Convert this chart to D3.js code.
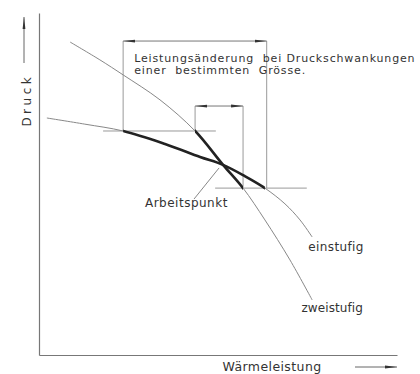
<!DOCTYPE html>
<html>
<head>
<meta charset="utf-8">
<script src="https://cdn.jsdelivr.net/npm/d3@7"></script>
<style>
  body { margin: 0; background: #fff; }
  text { font-family: "DejaVu Sans", sans-serif; fill: #333; }
</style>
</head>
<body>
<div id="chart"></div>
<script>
// data (Wärmeleistung 0..100, Druck 0..100)
const einstufig = [[2.2,69.3],[12.8,67.5],[23.5,65.5],[35.2,61.7],[45.0,57.9],[51.4,55.6],[57.5,52.3],[63.1,48.8],[68.7,44.2],[72.9,39.5],[76.3,34.5]]
const zweistufig = [[8.7,91.5],[17.0,86.3],[23.5,81.9],[33.8,74.6],[43.6,65.5],[51.4,55.6],[57.0,48.8],[63.1,39.5],[70.1,27.8],[76.3,16.1]]
const thickRange = { einstufig: [23.5, 63.1], zweistufig: [43.6, 57.0] }
const pressureLevels = [
  { y: 65.5, x1: 17.9, x2: 49.4 },
  { y: 48.8, x1: 49.2, x2: 74.8 },
]
const brackets = [
  { left: 23.5, right: 63.6, top: 91.8, yLeft: 65.5, yRight: 48.8 },
  { left: 43.6, right: 57.0, top: 72.8, yLeft: 65.5, yRight: 48.8 },
]
const leader = [[43.3,45.6],[50.3,54.7]]
const curveLabels = [
  { text: "einstufig", x: 75.2, y: 30.4, spacing: 0.4 },
  { text: "zweistufig", x: 73.3, y: 12.6, spacing: 0.1 },
  { text: "Arbeitspunkt", x: 29.6, y: 43.3, spacing: 0.5 },
]
const noteLines = ["Leistungsänderung  bei Druckschwankungen", "einer  bestimmten  Grösse."]

function drawChart(){

  // dimensions
  let dimensions = {
    width: 420,
    height: 374,
    margin: { top: 13, right: 23, bottom: 19, left: 39 },
  }
  dimensions.boundedWidth = dimensions.width - dimensions.margin.left - dimensions.margin.right
  dimensions.boundedHeight = dimensions.height - dimensions.margin.top - dimensions.margin.bottom

  // canvas
  const wrapper = d3.select("#chart")
    .append("svg")
      .attr("width", dimensions.width)
      .attr("height", dimensions.height)

  const defs = wrapper.append("defs")
  defs.append("marker")
      .attr("id", "arrow")
      .attr("viewBox", "0 -3 12 6")
      .attr("refX", 12)
      .attr("refY", 0)
      .attr("markerWidth", 12)
      .attr("markerHeight", 6)
      .attr("markerUnits", "userSpaceOnUse")
      .attr("orient", "auto-start-reverse")
    .append("path")
      .attr("d", "M0,-1.4L12,0L0,1.4Z")
      .attr("fill", "#333")

  const bounds = wrapper.append("g")
      .attr("transform", `translate(${dimensions.margin.left},${dimensions.margin.top})`)

  // scales
  const xScale = d3.scaleLinear()
    .domain([0, 100])
    .range([0, dimensions.boundedWidth])

  const yScale = d3.scaleLinear()
    .domain([0, 100])
    .range([dimensions.boundedHeight, 0])

  const lineGen = d3.line()
    .x(d => xScale(d[0]))
    .y(d => yScale(d[1]))
    .curve(d3.curveCatmullRom)

  // axes (plain lines, no ticks)
  const xAxis = bounds.append("g")
    .attr("transform", `translate(0,${dimensions.boundedHeight})`)
    .call(d3.axisBottom(xScale).tickValues([]).tickSizeOuter(0))
  const yAxis = bounds.append("g")
    .call(d3.axisLeft(yScale).tickValues([]).tickSizeOuter(0))
  bounds.selectAll(".domain").attr("stroke", "#777").attr("stroke-width", 1.2)

  // axis labels with arrows
  wrapper.append("text")
    .attr("transform", `translate(31,${dimensions.margin.top + yScale(74.5)}) rotate(-90)`)
    .attr("text-anchor", "middle")
    .attr("font-size", 12)
    .attr("letter-spacing", 3.5)
    .text("Druck")
  wrapper.append("line")
    .attr("x1", 24).attr("x2", 24)
    .attr("y1", 63).attr("y2", 17)
    .attr("stroke", "#666")
    .attr("marker-end", "url(#arrow)")

  wrapper.append("text")
    .attr("x", dimensions.margin.left + xScale(65.1))
    .attr("y", 371)
    .attr("text-anchor", "middle")
    .attr("font-size", 12.5)
    .attr("letter-spacing", 0.4)
    .text("Wärmeleistung")
  wrapper.append("line")
    .attr("x1", 355).attr("x2", 397)
    .attr("y1", 367).attr("y2", 367)
    .attr("stroke", "#666")
    .attr("marker-end", "url(#arrow)")

  // pressure levels and brackets
  bounds.selectAll("line.level")
    .data(pressureLevels)
    .enter().append("line")
      .attr("class", "level")
      .attr("x1", d => xScale(d.x1))
      .attr("x2", d => xScale(d.x2))
      .attr("y1", d => yScale(d.y))
      .attr("y2", d => yScale(d.y))
      .attr("stroke", "#999")

  const bracketGroup = bounds.selectAll("g.bracket")
    .data(brackets)
    .enter().append("g")
      .attr("class", "bracket")
  bracketGroup.append("line")
    .attr("x1", d => xScale(d.left)).attr("x2", d => xScale(d.left))
    .attr("y1", d => yScale(d.top)).attr("y2", d => yScale(d.yLeft))
    .attr("stroke", "#999")
  bracketGroup.append("line")
    .attr("x1", d => xScale(d.right)).attr("x2", d => xScale(d.right))
    .attr("y1", d => yScale(d.top)).attr("y2", d => yScale(d.yRight))
    .attr("stroke", "#999")
  bracketGroup.append("line")
    .attr("x1", d => xScale(d.left)).attr("x2", d => xScale(d.right))
    .attr("y1", d => yScale(d.top)).attr("y2", d => yScale(d.top))
    .attr("stroke", "#777")
    .attr("marker-start", "url(#arrow)")
    .attr("marker-end", "url(#arrow)")

  // curves: thin full line, thick part clipped to the pressure band
  const curves = [
    { name: "einstufig", points: einstufig },
    { name: "zweistufig", points: zweistufig },
  ]
  curves.forEach(c => {
    const r = thickRange[c.name]
    defs.append("clipPath")
        .attr("id", "clip-" + c.name)
      .append("rect")
        .attr("x", xScale(r[0]))
        .attr("width", xScale(r[1]) - xScale(r[0]))
        .attr("y", 0)
        .attr("height", dimensions.boundedHeight)

    bounds.append("path")
      .attr("d", lineGen(c.points))
      .attr("fill", "none")
      .attr("stroke", "#888")
      .attr("stroke-width", 1)

    bounds.append("path")
      .attr("d", lineGen(c.points))
      .attr("fill", "none")
      .attr("stroke", "#222")
      .attr("stroke-width", 2.6)
      .attr("clip-path", `url(#clip-${c.name})`)
  })

  // Arbeitspunkt leader
  bounds.append("line")
    .attr("x1", xScale(leader[0][0])).attr("y1", yScale(leader[0][1]))
    .attr("x2", xScale(leader[1][0])).attr("y2", yScale(leader[1][1]))
    .attr("stroke", "#888")

  // labels
  bounds.selectAll("text.label")
    .data(curveLabels)
    .enter().append("text")
      .attr("class", "label")
      .attr("x", d => xScale(d.x))
      .attr("y", d => yScale(d.y))
      .attr("font-size", 12)
      .attr("letter-spacing", d => d.spacing)
      .text(d => d.text)

  bounds.selectAll("text.note")
    .data(noteLines)
    .enter().append("text")
      .attr("class", "note")
      .attr("x", xScale(26.6))
      .attr("y", (d, i) => yScale(85.6) + i * 12)
      .attr("font-size", 11)
      .attr("letter-spacing", 0.85)
      .style("white-space", "pre")
      .text(d => d)
}

drawChart()
</script>
</body>
</html>
